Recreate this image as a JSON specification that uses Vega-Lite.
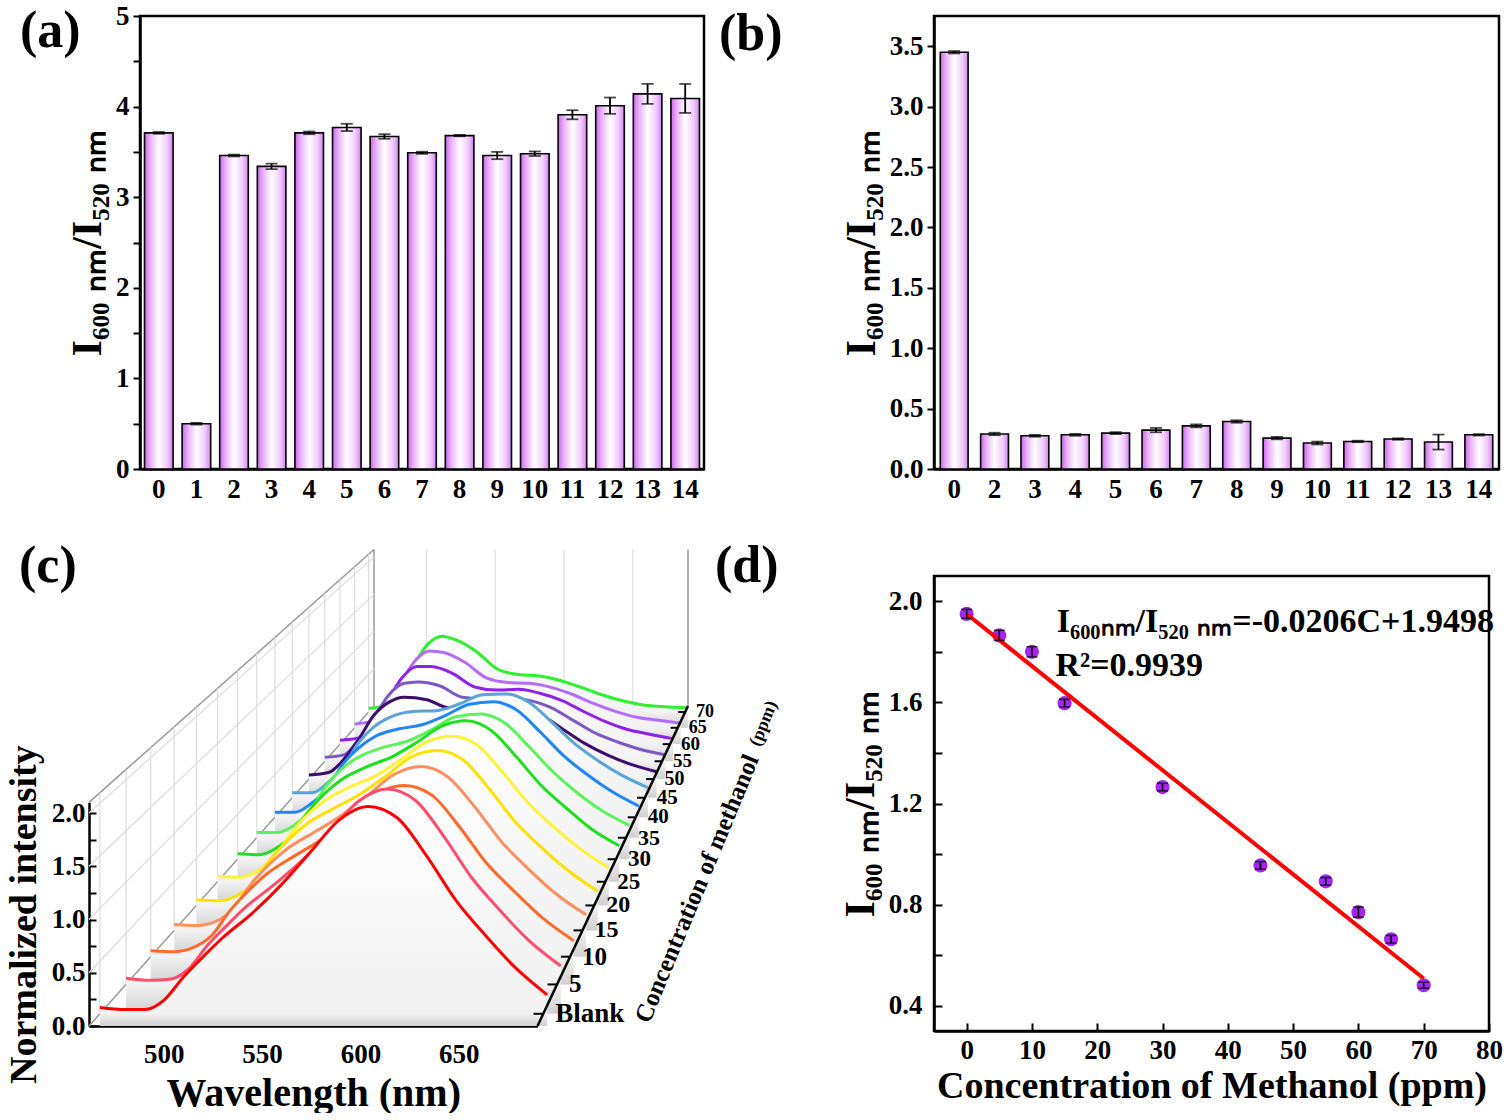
{
"$schema":"https://vega.github.io/schema/vega-lite/v6.json",
"background":"white",
"padding":{"left":5,"top":0,"right":0,"bottom":0},
"config":{
 "font":"Liberation Serif",
 "view":{"stroke":"#000","strokeWidth":2.5},
 "axis":{"labelFont":"Liberation Serif","titleFont":"Liberation Serif","labelFontWeight":"bold","titleFontWeight":"bold","labelFontSize":27,"titleFontSize":38,"labelColor":"#000","titleColor":"#000","domainColor":"#000","domainWidth":2.5,"tickColor":"#000","tickWidth":2,"grid":false,"labelOverlap":false,"labelFlush":false},
 "title":{"font":"Liberation Serif","fontSize":52,"fontWeight":"bold","color":"#000"},
 "text":{"font":"Liberation Serif","fontWeight":"bold","color":"#000"}
},
"datasets":{
 "a":[{"k":0,"v":3.71,"e":0.01},{"k":1,"v":0.50,"e":0.01},{"k":2,"v":3.46,"e":0.01},{"k":3,"v":3.34,"e":0.03},{"k":4,"v":3.71,"e":0.015},{"k":5,"v":3.77,"e":0.04},{"k":6,"v":3.67,"e":0.025},{"k":7,"v":3.49,"e":0.012},{"k":8,"v":3.68,"e":0.008},{"k":9,"v":3.46,"e":0.04},{"k":10,"v":3.48,"e":0.025},{"k":11,"v":3.91,"e":0.05},{"k":12,"v":4.01,"e":0.09},{"k":13,"v":4.14,"e":0.11},{"k":14,"v":4.09,"e":0.16}],
 "b":[{"k":0,"v":3.45,"e":0.01},{"k":2,"v":0.29,"e":0.01},{"k":3,"v":0.275,"e":0.008},{"k":4,"v":0.283,"e":0.008},{"k":5,"v":0.297,"e":0.008},{"k":6,"v":0.322,"e":0.018},{"k":7,"v":0.357,"e":0.012},{"k":8,"v":0.393,"e":0.01},{"k":9,"v":0.256,"e":0.01},{"k":10,"v":0.215,"e":0.012},{"k":11,"v":0.228,"e":0.006},{"k":12,"v":0.248,"e":0.006},{"k":13,"v":0.223,"e":0.062},{"k":14,"v":0.283,"e":0.006}],
 "d":[{"C":0,"r":1.95,"e":0.018},{"C":5,"r":1.865,"e":0.02},{"C":10,"r":1.80,"e":0.02},{"C":15,"r":1.597,"e":0.015},{"C":30,"r":1.265,"e":0.015},{"C":45,"r":0.955,"e":0.015},{"C":55,"r":0.892,"e":0.015},{"C":60,"r":0.77,"e":0.02},{"C":65,"r":0.663,"e":0.015},{"C":70,"r":0.481,"e":0.012}],
 "fit":[{"C":0,"r":1.9498},{"C":70,"r":0.5078}],
 "spec":[
{"c":0,"w":462,"v":0.06},{"c":0,"w":475,"v":0.04},{"c":0,"w":485,"v":0.04},{"c":0,"w":495,"v":0.13},{"c":0,"w":505,"v":0.35},{"c":0,"w":515,"v":0.54},{"c":0,"w":525,"v":0.72},{"c":0,"w":540,"v":0.95},{"c":0,"w":555,"v":1.22},{"c":0,"w":570,"v":1.53},{"c":0,"w":585,"v":1.84},{"c":0,"w":600,"v":1.97},{"c":0,"w":615,"v":1.86},{"c":0,"w":630,"v":1.50},{"c":0,"w":645,"v":1.08},{"c":0,"w":660,"v":0.75},{"c":0,"w":675,"v":0.45},{"c":0,"w":692,"v":0.18},
{"c":5,"w":462,"v":0.06},{"c":5,"w":475,"v":0.04},{"c":5,"w":485,"v":0.05},{"c":5,"w":495,"v":0.15},{"c":5,"w":505,"v":0.38},{"c":5,"w":515,"v":0.57},{"c":5,"w":525,"v":0.75},{"c":5,"w":540,"v":0.97},{"c":5,"w":555,"v":1.21},{"c":5,"w":570,"v":1.50},{"c":5,"w":585,"v":1.79},{"c":5,"w":600,"v":1.91},{"c":5,"w":615,"v":1.80},{"c":5,"w":630,"v":1.45},{"c":5,"w":645,"v":1.04},{"c":5,"w":660,"v":0.72},{"c":5,"w":675,"v":0.43},{"c":5,"w":692,"v":0.18},
{"c":10,"w":462,"v":0.06},{"c":10,"w":475,"v":0.05},{"c":10,"w":485,"v":0.09},{"c":10,"w":495,"v":0.21},{"c":10,"w":505,"v":0.46},{"c":10,"w":515,"v":0.66},{"c":10,"w":525,"v":0.83},{"c":10,"w":540,"v":1.01},{"c":10,"w":555,"v":1.18},{"c":10,"w":570,"v":1.41},{"c":10,"w":585,"v":1.64},{"c":10,"w":600,"v":1.72},{"c":10,"w":615,"v":1.62},{"c":10,"w":630,"v":1.30},{"c":10,"w":645,"v":0.93},{"c":10,"w":660,"v":0.65},{"c":10,"w":675,"v":0.39},{"c":10,"w":692,"v":0.16},
{"c":15,"w":462,"v":0.06},{"c":15,"w":475,"v":0.05},{"c":15,"w":485,"v":0.09},{"c":15,"w":495,"v":0.22},{"c":15,"w":505,"v":0.48},{"c":15,"w":515,"v":0.68},{"c":15,"w":525,"v":0.84},{"c":15,"w":540,"v":1.01},{"c":15,"w":555,"v":1.18},{"c":15,"w":570,"v":1.39},{"c":15,"w":585,"v":1.61},{"c":15,"w":600,"v":1.69},{"c":15,"w":615,"v":1.58},{"c":15,"w":630,"v":1.27},{"c":15,"w":645,"v":0.91},{"c":15,"w":660,"v":0.63},{"c":15,"w":675,"v":0.38},{"c":15,"w":692,"v":0.16},
{"c":20,"w":462,"v":0.06},{"c":20,"w":475,"v":0.05},{"c":20,"w":485,"v":0.10},{"c":20,"w":495,"v":0.24},{"c":20,"w":505,"v":0.50},{"c":20,"w":515,"v":0.70},{"c":20,"w":525,"v":0.86},{"c":20,"w":540,"v":1.02},{"c":20,"w":555,"v":1.17},{"c":20,"w":570,"v":1.36},{"c":20,"w":585,"v":1.57},{"c":20,"w":600,"v":1.64},{"c":20,"w":615,"v":1.54},{"c":20,"w":630,"v":1.23},{"c":20,"w":645,"v":0.88},{"c":20,"w":660,"v":0.61},{"c":20,"w":675,"v":0.37},{"c":20,"w":692,"v":0.15},
{"c":25,"w":462,"v":0.06},{"c":25,"w":475,"v":0.05},{"c":25,"w":485,"v":0.11},{"c":25,"w":495,"v":0.26},{"c":25,"w":505,"v":0.52},{"c":25,"w":515,"v":0.73},{"c":25,"w":525,"v":0.88},{"c":25,"w":540,"v":1.03},{"c":25,"w":555,"v":1.15},{"c":25,"w":570,"v":1.33},{"c":25,"w":585,"v":1.52},{"c":25,"w":600,"v":1.58},{"c":25,"w":615,"v":1.48},{"c":25,"w":630,"v":1.18},{"c":25,"w":645,"v":0.85},{"c":25,"w":660,"v":0.59},{"c":25,"w":675,"v":0.36},{"c":25,"w":692,"v":0.15},
{"c":30,"w":462,"v":0.06},{"c":30,"w":475,"v":0.05},{"c":30,"w":485,"v":0.12},{"c":30,"w":495,"v":0.27},{"c":30,"w":505,"v":0.54},{"c":30,"w":515,"v":0.74},{"c":30,"w":525,"v":0.89},{"c":30,"w":540,"v":1.03},{"c":30,"w":555,"v":1.14},{"c":30,"w":570,"v":1.30},{"c":30,"w":585,"v":1.48},{"c":30,"w":600,"v":1.54},{"c":30,"w":615,"v":1.43},{"c":30,"w":630,"v":1.14},{"c":30,"w":645,"v":0.82},{"c":30,"w":660,"v":0.57},{"c":30,"w":675,"v":0.34},{"c":30,"w":692,"v":0.15},
{"c":35,"w":462,"v":0.06},{"c":35,"w":475,"v":0.06},{"c":35,"w":485,"v":0.14},{"c":35,"w":495,"v":0.31},{"c":35,"w":505,"v":0.59},{"c":35,"w":515,"v":0.79},{"c":35,"w":525,"v":0.92},{"c":35,"w":540,"v":1.03},{"c":35,"w":555,"v":1.10},{"c":35,"w":570,"v":1.23},{"c":35,"w":585,"v":1.38},{"c":35,"w":600,"v":1.41},{"c":35,"w":615,"v":1.31},{"c":35,"w":630,"v":1.04},{"c":35,"w":645,"v":0.75},{"c":35,"w":660,"v":0.51},{"c":35,"w":675,"v":0.31},{"c":35,"w":692,"v":0.14},
{"c":40,"w":462,"v":0.06},{"c":40,"w":475,"v":0.06},{"c":40,"w":485,"v":0.16},{"c":40,"w":495,"v":0.33},{"c":40,"w":505,"v":0.62},{"c":40,"w":515,"v":0.81},{"c":40,"w":525,"v":0.94},{"c":40,"w":540,"v":1.03},{"c":40,"w":555,"v":1.08},{"c":40,"w":570,"v":1.19},{"c":40,"w":585,"v":1.32},{"c":40,"w":600,"v":1.35},{"c":40,"w":615,"v":1.25},{"c":40,"w":630,"v":0.99},{"c":40,"w":645,"v":0.71},{"c":40,"w":660,"v":0.49},{"c":40,"w":675,"v":0.30},{"c":40,"w":692,"v":0.13},
{"c":45,"w":462,"v":0.06},{"c":45,"w":475,"v":0.06},{"c":45,"w":485,"v":0.18},{"c":45,"w":495,"v":0.37},{"c":45,"w":505,"v":0.66},{"c":45,"w":515,"v":0.85},{"c":45,"w":525,"v":0.96},{"c":45,"w":540,"v":1.03},{"c":45,"w":555,"v":1.04},{"c":45,"w":570,"v":1.12},{"c":45,"w":585,"v":1.23},{"c":45,"w":600,"v":1.24},{"c":45,"w":615,"v":1.14},{"c":45,"w":630,"v":0.90},{"c":45,"w":645,"v":0.64},{"c":45,"w":660,"v":0.44},{"c":45,"w":675,"v":0.27},{"c":45,"w":692,"v":0.12},
{"c":50,"w":462,"v":0.05},{"c":50,"w":475,"v":0.08},{"c":50,"w":485,"v":0.24},{"c":50,"w":495,"v":0.49},{"c":50,"w":505,"v":0.78},{"c":50,"w":515,"v":0.94},{"c":50,"w":525,"v":1.00},{"c":50,"w":540,"v":0.97},{"c":50,"w":555,"v":0.87},{"c":50,"w":570,"v":0.87},{"c":50,"w":585,"v":0.91},{"c":50,"w":600,"v":0.89},{"c":50,"w":615,"v":0.79},{"c":50,"w":630,"v":0.61},{"c":50,"w":645,"v":0.43},{"c":50,"w":660,"v":0.29},{"c":50,"w":675,"v":0.18},{"c":50,"w":692,"v":0.09},
{"c":55,"w":462,"v":0.05},{"c":55,"w":475,"v":0.08},{"c":55,"w":485,"v":0.27},{"c":55,"w":495,"v":0.53},{"c":55,"w":505,"v":0.82},{"c":55,"w":515,"v":0.97},{"c":55,"w":525,"v":0.99},{"c":55,"w":540,"v":0.94},{"c":55,"w":555,"v":0.80},{"c":55,"w":570,"v":0.78},{"c":55,"w":585,"v":0.80},{"c":55,"w":600,"v":0.76},{"c":55,"w":615,"v":0.67},{"c":55,"w":630,"v":0.51},{"c":55,"w":645,"v":0.35},{"c":55,"w":660,"v":0.24},{"c":55,"w":675,"v":0.15},{"c":55,"w":692,"v":0.08},
{"c":60,"w":462,"v":0.05},{"c":60,"w":475,"v":0.08},{"c":60,"w":485,"v":0.29},{"c":60,"w":495,"v":0.56},{"c":60,"w":505,"v":0.85},{"c":60,"w":515,"v":0.99},{"c":60,"w":525,"v":0.99},{"c":60,"w":540,"v":0.90},{"c":60,"w":555,"v":0.73},{"c":60,"w":570,"v":0.69},{"c":60,"w":585,"v":0.70},{"c":60,"w":600,"v":0.65},{"c":60,"w":615,"v":0.56},{"c":60,"w":630,"v":0.42},{"c":60,"w":645,"v":0.29},{"c":60,"w":660,"v":0.19},{"c":60,"w":675,"v":0.13},{"c":60,"w":692,"v":0.07},
{"c":65,"w":462,"v":0.05},{"c":65,"w":475,"v":0.09},{"c":65,"w":485,"v":0.31},{"c":65,"w":495,"v":0.60},{"c":65,"w":505,"v":0.88},{"c":65,"w":515,"v":1.00},{"c":65,"w":525,"v":0.98},{"c":65,"w":540,"v":0.85},{"c":65,"w":555,"v":0.65},{"c":65,"w":570,"v":0.59},{"c":65,"w":585,"v":0.58},{"c":65,"w":600,"v":0.53},{"c":65,"w":615,"v":0.44},{"c":65,"w":630,"v":0.32},{"c":65,"w":645,"v":0.22},{"c":65,"w":660,"v":0.14},{"c":65,"w":675,"v":0.10},{"c":65,"w":692,"v":0.06},
{"c":70,"w":462,"v":0.05},{"c":70,"w":475,"v":0.09},{"c":70,"w":485,"v":0.33},{"c":70,"w":495,"v":0.64},{"c":70,"w":505,"v":0.91},{"c":70,"w":515,"v":1.01},{"c":70,"w":525,"v":0.96},{"c":70,"w":540,"v":0.80},{"c":70,"w":555,"v":0.57},{"c":70,"w":570,"v":0.50},{"c":70,"w":585,"v":0.48},{"c":70,"w":600,"v":0.42},{"c":70,"w":615,"v":0.33},{"c":70,"w":630,"v":0.23},{"c":70,"w":645,"v":0.15},{"c":70,"w":660,"v":0.095},{"c":70,"w":675,"v":0.07},{"c":70,"w":692,"v":0.055}
 ]
},
"columns":2,
"align":"none",
"bounds":"flush",
"spacing":{"row":107,"column":220},
"concat":[
  {"width":564,"height":453,
   "title":{"text":"(a)","anchor":"start","frame":"group","orient":"top","offset":0,"dx":-120,"dy":97,"baseline":"alphabetic"},
   "data":{"name":"a"},
   "encoding":{
    "x":{"field":"k","type":"ordinal","scale":{"paddingInner":0.24,"paddingOuter":0.12},"axis":{"title":null,"labelAngle":0,"ticks":false,"labelPadding":7}},
    "y":{"field":"v","type":"quantitative","scale":{"domain":[0,5],"nice":false},"axis":{"title":"I₆₀₀ ₙₘ/I₅₂₀ ₙₘ","titleFontSize":42,"titlePadding":6,"values":[0,0.5,1,1.5,2,2.5,3,3.5,4,4.5,5],"labelExpr":"datum.value % 1 === 0 ? format(datum.value, 'd') : ''","tickSize":7,"labelPadding":4}}
   },
   "layer":[
    {"mark":{"type":"bar","fill":{"gradient":"linear","x1":0,"y1":0,"x2":1,"y2":0,"stops":[{"offset":0,"color":"#cc66f0"},{"offset":0.2,"color":"#e9b0f8"},{"offset":0.5,"color":"#ffffff"},{"offset":0.8,"color":"#f0cbfa"},{"offset":1,"color":"#d484f2"}]},"stroke":"#000","strokeWidth":1.6}},
    {"mark":{"type":"errorbar","color":"#000","ticks":{"size":12,"thickness":1.8},"rule":{"strokeWidth":1.8}},"encoding":{"yError":{"field":"e"}}}
   ]
  },
  {"width":565,"height":453,
   "title":{"text":"(b)","anchor":"start","frame":"group","orient":"top","offset":0,"dx":-215,"dy":86,"baseline":"alphabetic"},
   "data":{"name":"b"},
   "encoding":{
    "x":{"field":"k","type":"ordinal","scale":{"paddingInner":0.31,"paddingOuter":0.155},"axis":{"title":null,"labelAngle":0,"ticks":false,"labelPadding":7}},
    "y":{"field":"v","type":"quantitative","scale":{"domain":[0,3.75],"nice":false},"axis":{"title":"I₆₀₀ ₙₘ/I₅₂₀ ₙₘ","titleFontSize":42,"titlePadding":6,"values":[0,0.5,1,1.5,2,2.5,3,3.5],"format":".1f","tickSize":7,"labelPadding":4}}
   },
   "layer":[
    {"mark":{"type":"bar","fill":{"gradient":"linear","x1":0,"y1":0,"x2":1,"y2":0,"stops":[{"offset":0,"color":"#cc66f0"},{"offset":0.2,"color":"#e9b0f8"},{"offset":0.5,"color":"#ffffff"},{"offset":0.8,"color":"#f0cbfa"},{"offset":1,"color":"#d484f2"}]},"stroke":"#000","strokeWidth":1.6}},
    {"mark":{"type":"errorbar","color":"#000","ticks":{"size":12,"thickness":1.8},"rule":{"strokeWidth":1.8}},"encoding":{"yError":{"field":"e"}}}
   ]
  },
  {"width":574,"height":450,
   "view":{"stroke":null},
   "title":{"text":"(c)","anchor":"start","frame":"group","orient":"top","offset":0,"dx":-121,"dy":85,"baseline":"alphabetic"},
   "resolve":{"scale":{"x":"independent","y":"independent"},"axis":{"x":"independent","y":"independent"}},
   "layer":[
    {"data":{"values":[{"w":500},{"w":550},{"w":600},{"w":650}]},
     "encoding":{"x":{"field":"w","type":"quantitative","scale":{"domain":[462,690],"range":[234,548],"nice":false,"zero":false},"axis":null}},
     "layer":[
      {"mark":{"type":"rule","color":"#dddddd","strokeWidth":1.2},"encoding":{"y":{"datum":0,"type":"quantitative","scale":{"domain":[0,2.1],"range":[130,-26.56],"nice":false,"zero":false},"axis":null},"y2":{"datum":2.1}}},
      {"data":{"values":[{"v":0.5},{"v":1.0},{"v":1.5},{"v":2.0}]},"mark":{"type":"rule","color":"#dddddd","strokeWidth":1.2},"encoding":{"y":{"field":"v","type":"quantitative","axis":null},"x":{"datum":462,"type":"quantitative","axis":null},"x2":{"datum":690}}},
      {"data":{"values":[{"w":462},{"w":690}]},"mark":{"type":"rule","color":"#9a9a9a","strokeWidth":1.5},"encoding":{"y":{"datum":0,"type":"quantitative","axis":null},"y2":{"datum":2.1}}},
      {"data":{"values":[{"v":2.1}]},"mark":{"type":"rule","color":"#9a9a9a","strokeWidth":1.5},"encoding":{"y":{"field":"v","type":"quantitative","axis":null},"x":{"datum":462,"type":"quantitative","axis":null},"x2":{"datum":690}}}
     ]},
    {"data":{"values":[{}]},"mark":{"type":"rule","color":"#9a9a9a","strokeWidth":1.5},"encoding":{"x":{"datum":-2,"type":"quantitative","scale":{"domain":[-2,72],"range":[-51,234],"nice":false,"zero":false},"axis":null},"x2":{"datum":72},"y":{"datum":-2,"type":"quantitative","scale":{"domain":[-2,72],"range":[450,130],"nice":false,"zero":false},"axis":null},"y2":{"datum":72}}},
    {"data":{"values":[{}]},"mark":{"type":"rule","color":"#dddddd","strokeWidth":1.2},"encoding":{"x":{"datum":-2,"type":"quantitative","scale":{"domain":[-2,72],"range":[-51,234],"nice":false,"zero":false},"axis":null},"x2":{"datum":72},"y":{"datum":-2,"type":"quantitative","scale":{"domain":[-2,72],"range":[396.75,92.72],"nice":false,"zero":false},"axis":null},"y2":{"datum":72}}},
    {"data":{"values":[{}]},"mark":{"type":"rule","color":"#dddddd","strokeWidth":1.2},"encoding":{"x":{"datum":-2,"type":"quantitative","scale":{"domain":[-2,72],"range":[-51,234],"nice":false,"zero":false},"axis":null},"x2":{"datum":72},"y":{"datum":-2,"type":"quantitative","scale":{"domain":[-2,72],"range":[343.5,55.45],"nice":false,"zero":false},"axis":null},"y2":{"datum":72}}},
    {"data":{"values":[{}]},"mark":{"type":"rule","color":"#dddddd","strokeWidth":1.2},"encoding":{"x":{"datum":-2,"type":"quantitative","scale":{"domain":[-2,72],"range":[-51,234],"nice":false,"zero":false},"axis":null},"x2":{"datum":72},"y":{"datum":-2,"type":"quantitative","scale":{"domain":[-2,72],"range":[290.25,18.18],"nice":false,"zero":false},"axis":null},"y2":{"datum":72}}},
    {"data":{"values":[{}]},"mark":{"type":"rule","color":"#dddddd","strokeWidth":1.2},"encoding":{"x":{"datum":-2,"type":"quantitative","scale":{"domain":[-2,72],"range":[-51,234],"nice":false,"zero":false},"axis":null},"x2":{"datum":72},"y":{"datum":-2,"type":"quantitative","scale":{"domain":[-2,72],"range":[237,-19.1],"nice":false,"zero":false},"axis":null},"y2":{"datum":72}}},
    {"data":{"values":[{}]},"mark":{"type":"rule","color":"#9a9a9a","strokeWidth":1.5},"encoding":{"x":{"datum":-2,"type":"quantitative","scale":{"domain":[-2,72],"range":[-51,234],"nice":false,"zero":false},"axis":null},"x2":{"datum":72},"y":{"datum":-2,"type":"quantitative","scale":{"domain":[-2,72],"range":[226.35,-26.56],"nice":false,"zero":false},"axis":null},"y2":{"datum":72}}},

    {"data":{"name":"spec"},"transform":[{"filter":"datum.c == 70"}],
     "encoding":{"x":{"field":"w","type":"quantitative","scale":{"domain":[462,690],"range":[228.58,545.09],"nice":false,"zero":false},"axis":null},"y":{"field":"v","type":"quantitative","scale":{"domain":[0,2.1],"range":[136.07,-21.75],"nice":false,"zero":false},"axis":null}},
     "layer":[
      {"transform":[{"filter":"datum.w == 462"}],"mark":{"type":"rule","color":"#dcdcdc","strokeWidth":1.2},"encoding":{"y":{"datum":0,"type":"quantitative","axis":null},"y2":{"datum":2.1}}},
      {"mark":{"type":"area","interpolate":"monotone","opacity":1,"fill":{"gradient":"linear","x1":0,"y1":0,"x2":0,"y2":1,"stops":[{"offset":0,"color":"#ffffff"},{"offset":0.829,"color":"#f2f2f2"},{"offset":1,"color":"#d0d0d0"}]}},"encoding":{"y2":{"datum":-0.209}}},
      {"mark":{"type":"line","interpolate":"monotone","color":"#2ef02e","strokeWidth":3}},
      {"transform":[{"filter":"datum.w == 692"}],"mark":{"type":"rule","color":"#000","strokeWidth":2},"encoding":{"x":{"datum":690,"type":"quantitative","axis":null},"x2":{"datum":685},"y":{"datum":0,"type":"quantitative","axis":null}}},
      {"transform":[{"filter":"datum.w == 692"}],"mark":{"type":"text","text":"70","align":"left","baseline":"middle","dx":11,"fontSize":18},"encoding":{"x":{"datum":690,"type":"quantitative","axis":null},"y":{"datum":0,"type":"quantitative","axis":null}}}
     ]},
    {"data":{"name":"spec"},"transform":[{"filter":"datum.c == 65"}],
     "encoding":{"x":{"field":"w","type":"quantitative","scale":{"domain":[462,690],"range":[214.59,537.71],"nice":false,"zero":false},"axis":null},"y":{"field":"v","type":"quantitative","scale":{"domain":[0,2.1],"range":[151.78,-9.34],"nice":false,"zero":false},"axis":null}},
     "layer":[
      {"transform":[{"filter":"datum.w == 462"}],"mark":{"type":"rule","color":"#dcdcdc","strokeWidth":1.2},"encoding":{"y":{"datum":0,"type":"quantitative","axis":null},"y2":{"datum":2.1}}},
      {"mark":{"type":"area","interpolate":"monotone","opacity":1,"fill":{"gradient":"linear","x1":0,"y1":0,"x2":0,"y2":1,"stops":[{"offset":0,"color":"#ffffff"},{"offset":0.824,"color":"#f2f2f2"},{"offset":1,"color":"#d0d0d0"}]}},"encoding":{"y2":{"datum":-0.213}}},
      {"mark":{"type":"line","interpolate":"monotone","color":"#b56cfa","strokeWidth":3}},
      {"transform":[{"filter":"datum.w == 692"}],"mark":{"type":"rule","color":"#000","strokeWidth":2},"encoding":{"x":{"datum":690,"type":"quantitative","axis":null},"x2":{"datum":685},"y":{"datum":0,"type":"quantitative","axis":null}}},
      {"transform":[{"filter":"datum.w == 692"}],"mark":{"type":"text","text":"65","align":"left","baseline":"middle","dx":11,"fontSize":18},"encoding":{"x":{"datum":690,"type":"quantitative","axis":null},"y":{"datum":0,"type":"quantitative","axis":null}}}
     ]},
    {"data":{"name":"spec"},"transform":[{"filter":"datum.c == 60"}],
     "encoding":{"x":{"field":"w","type":"quantitative","scale":{"domain":[462,690],"range":[200.01,530.01],"nice":false,"zero":false},"axis":null},"y":{"field":"v","type":"quantitative","scale":{"domain":[0,2.1],"range":[168.15,3.6],"nice":false,"zero":false},"axis":null}},
     "layer":[
      {"transform":[{"filter":"datum.w == 462"}],"mark":{"type":"rule","color":"#dcdcdc","strokeWidth":1.2},"encoding":{"y":{"datum":0,"type":"quantitative","axis":null},"y2":{"datum":2.1}}},
      {"mark":{"type":"area","interpolate":"monotone","opacity":1,"fill":{"gradient":"linear","x1":0,"y1":0,"x2":0,"y2":1,"stops":[{"offset":0,"color":"#ffffff"},{"offset":0.82,"color":"#f2f2f2"},{"offset":1,"color":"#d0d0d0"}]}},"encoding":{"y2":{"datum":-0.218}}},
      {"mark":{"type":"line","interpolate":"monotone","color":"#8f22e6","strokeWidth":3}},
      {"transform":[{"filter":"datum.w == 692"}],"mark":{"type":"rule","color":"#000","strokeWidth":2},"encoding":{"x":{"datum":690,"type":"quantitative","axis":null},"x2":{"datum":685},"y":{"datum":0,"type":"quantitative","axis":null}}},
      {"transform":[{"filter":"datum.w == 692"}],"mark":{"type":"text","text":"60","align":"left","baseline":"middle","dx":11,"fontSize":19},"encoding":{"x":{"datum":690,"type":"quantitative","axis":null},"y":{"datum":0,"type":"quantitative","axis":null}}}
     ]},
    {"data":{"name":"spec"},"transform":[{"filter":"datum.c == 55"}],
     "encoding":{"x":{"field":"w","type":"quantitative","scale":{"domain":[462,690],"range":[184.79,521.97],"nice":false,"zero":false},"axis":null},"y":{"field":"v","type":"quantitative","scale":{"domain":[0,2.1],"range":[185.24,17.1],"nice":false,"zero":false},"axis":null}},
     "layer":[
      {"transform":[{"filter":"datum.w == 462"}],"mark":{"type":"rule","color":"#dcdcdc","strokeWidth":1.2},"encoding":{"y":{"datum":0,"type":"quantitative","axis":null},"y2":{"datum":2.1}}},
      {"mark":{"type":"area","interpolate":"monotone","opacity":1,"fill":{"gradient":"linear","x1":0,"y1":0,"x2":0,"y2":1,"stops":[{"offset":0,"color":"#ffffff"},{"offset":0.816,"color":"#f2f2f2"},{"offset":1,"color":"#d0d0d0"}]}},"encoding":{"y2":{"datum":-0.223}}},
      {"mark":{"type":"line","interpolate":"monotone","color":"#7a58c6","strokeWidth":3}},
      {"transform":[{"filter":"datum.w == 692"}],"mark":{"type":"rule","color":"#000","strokeWidth":2},"encoding":{"x":{"datum":690,"type":"quantitative","axis":null},"x2":{"datum":685},"y":{"datum":0,"type":"quantitative","axis":null}}},
      {"transform":[{"filter":"datum.w == 692"}],"mark":{"type":"text","text":"55","align":"left","baseline":"middle","dx":11,"fontSize":19},"encoding":{"x":{"datum":690,"type":"quantitative","axis":null},"y":{"datum":0,"type":"quantitative","axis":null}}}
     ]},
    {"data":{"name":"spec"},"transform":[{"filter":"datum.c == 50"}],
     "encoding":{"x":{"field":"w","type":"quantitative","scale":{"domain":[462,690],"range":[168.9,513.58],"nice":false,"zero":false},"axis":null},"y":{"field":"v","type":"quantitative","scale":{"domain":[0,2.1],"range":[203.09,31.22],"nice":false,"zero":false},"axis":null}},
     "layer":[
      {"transform":[{"filter":"datum.w == 462"}],"mark":{"type":"rule","color":"#dcdcdc","strokeWidth":1.2},"encoding":{"y":{"datum":0,"type":"quantitative","axis":null},"y2":{"datum":2.1}}},
      {"mark":{"type":"area","interpolate":"monotone","opacity":1,"fill":{"gradient":"linear","x1":0,"y1":0,"x2":0,"y2":1,"stops":[{"offset":0,"color":"#ffffff"},{"offset":0.814,"color":"#f2f2f2"},{"offset":1,"color":"#d0d0d0"}]}},"encoding":{"y2":{"datum":-0.228}}},
      {"mark":{"type":"line","interpolate":"monotone","color":"#3c0d6e","strokeWidth":3}},
      {"transform":[{"filter":"datum.w == 692"}],"mark":{"type":"rule","color":"#000","strokeWidth":2},"encoding":{"x":{"datum":690,"type":"quantitative","axis":null},"x2":{"datum":685},"y":{"datum":0,"type":"quantitative","axis":null}}},
      {"transform":[{"filter":"datum.w == 692"}],"mark":{"type":"text","text":"50","align":"left","baseline":"middle","dx":11,"fontSize":20},"encoding":{"x":{"datum":690,"type":"quantitative","axis":null},"y":{"datum":0,"type":"quantitative","axis":null}}}
     ]},
    {"data":{"name":"spec"},"transform":[{"filter":"datum.c == 45"}],
     "encoding":{"x":{"field":"w","type":"quantitative","scale":{"domain":[462,690],"range":[152.28,504.81],"nice":false,"zero":false},"axis":null},"y":{"field":"v","type":"quantitative","scale":{"domain":[0,2.1],"range":[221.75,45.97],"nice":false,"zero":false},"axis":null}},
     "layer":[
      {"transform":[{"filter":"datum.w == 462"}],"mark":{"type":"rule","color":"#dcdcdc","strokeWidth":1.2},"encoding":{"y":{"datum":0,"type":"quantitative","axis":null},"y2":{"datum":2.1}}},
      {"mark":{"type":"area","interpolate":"monotone","opacity":1,"fill":{"gradient":"linear","x1":0,"y1":0,"x2":0,"y2":1,"stops":[{"offset":0,"color":"#ffffff"},{"offset":0.842,"color":"#f2f2f2"},{"offset":1,"color":"#d0d0d0"}]}},"encoding":{"y2":{"datum":-0.233}}},
      {"mark":{"type":"line","interpolate":"monotone","color":"#5aa5d6","strokeWidth":3}},
      {"transform":[{"filter":"datum.w == 692"}],"mark":{"type":"rule","color":"#000","strokeWidth":2},"encoding":{"x":{"datum":690,"type":"quantitative","axis":null},"x2":{"datum":685},"y":{"datum":0,"type":"quantitative","axis":null}}},
      {"transform":[{"filter":"datum.w == 692"}],"mark":{"type":"text","text":"45","align":"left","baseline":"middle","dx":12,"fontSize":21},"encoding":{"x":{"datum":690,"type":"quantitative","axis":null},"y":{"datum":0,"type":"quantitative","axis":null}}}
     ]},
    {"data":{"name":"spec"},"transform":[{"filter":"datum.c == 40"}],
     "encoding":{"x":{"field":"w","type":"quantitative","scale":{"domain":[462,690],"range":[134.88,495.63],"nice":false,"zero":false},"axis":null},"y":{"field":"v","type":"quantitative","scale":{"domain":[0,2.1],"range":[241.28,61.4],"nice":false,"zero":false},"axis":null}},
     "layer":[
      {"transform":[{"filter":"datum.w == 462"}],"mark":{"type":"rule","color":"#dcdcdc","strokeWidth":1.2},"encoding":{"y":{"datum":0,"type":"quantitative","axis":null},"y2":{"datum":2.1}}},
      {"mark":{"type":"area","interpolate":"monotone","opacity":1,"fill":{"gradient":"linear","x1":0,"y1":0,"x2":0,"y2":1,"stops":[{"offset":0,"color":"#ffffff"},{"offset":0.85,"color":"#f2f2f2"},{"offset":1,"color":"#d0d0d0"}]}},"encoding":{"y2":{"datum":-0.239}}},
      {"mark":{"type":"line","interpolate":"monotone","color":"#1f86f5","strokeWidth":3}},
      {"transform":[{"filter":"datum.w == 692"}],"mark":{"type":"rule","color":"#000","strokeWidth":2},"encoding":{"x":{"datum":690,"type":"quantitative","axis":null},"x2":{"datum":685},"y":{"datum":0,"type":"quantitative","axis":null}}},
      {"transform":[{"filter":"datum.w == 692"}],"mark":{"type":"text","text":"40","align":"left","baseline":"middle","dx":12,"fontSize":21},"encoding":{"x":{"datum":690,"type":"quantitative","axis":null},"y":{"datum":0,"type":"quantitative","axis":null}}}
     ]},
    {"data":{"name":"spec"},"transform":[{"filter":"datum.c == 35"}],
     "encoding":{"x":{"field":"w","type":"quantitative","scale":{"domain":[462,690],"range":[116.66,486.01],"nice":false,"zero":false},"axis":null},"y":{"field":"v","type":"quantitative","scale":{"domain":[0,2.1],"range":[261.74,77.57],"nice":false,"zero":false},"axis":null}},
     "layer":[
      {"transform":[{"filter":"datum.w == 462"}],"mark":{"type":"rule","color":"#dcdcdc","strokeWidth":1.2},"encoding":{"y":{"datum":0,"type":"quantitative","axis":null},"y2":{"datum":2.1}}},
      {"mark":{"type":"area","interpolate":"monotone","opacity":1,"fill":{"gradient":"linear","x1":0,"y1":0,"x2":0,"y2":1,"stops":[{"offset":0,"color":"#ffffff"},{"offset":0.852,"color":"#f2f2f2"},{"offset":1,"color":"#d0d0d0"}]}},"encoding":{"y2":{"datum":-0.245}}},
      {"mark":{"type":"line","interpolate":"monotone","color":"#5cf25c","strokeWidth":3}},
      {"transform":[{"filter":"datum.w == 692"}],"mark":{"type":"rule","color":"#000","strokeWidth":2},"encoding":{"x":{"datum":690,"type":"quantitative","axis":null},"x2":{"datum":685},"y":{"datum":0,"type":"quantitative","axis":null}}},
      {"transform":[{"filter":"datum.w == 692"}],"mark":{"type":"text","text":"35","align":"left","baseline":"middle","dx":12,"fontSize":22},"encoding":{"x":{"datum":690,"type":"quantitative","axis":null},"y":{"datum":0,"type":"quantitative","axis":null}}}
     ]},
    {"data":{"name":"spec"},"transform":[{"filter":"datum.c == 30"}],
     "encoding":{"x":{"field":"w","type":"quantitative","scale":{"domain":[462,690],"range":[97.55,475.92],"nice":false,"zero":false},"axis":null},"y":{"field":"v","type":"quantitative","scale":{"domain":[0,2.1],"range":[283.21,94.54],"nice":false,"zero":false},"axis":null}},
     "layer":[
      {"transform":[{"filter":"datum.w == 462"}],"mark":{"type":"rule","color":"#dcdcdc","strokeWidth":1.2},"encoding":{"y":{"datum":0,"type":"quantitative","axis":null},"y2":{"datum":2.1}}},
      {"mark":{"type":"area","interpolate":"monotone","opacity":1,"fill":{"gradient":"linear","x1":0,"y1":0,"x2":0,"y2":1,"stops":[{"offset":0,"color":"#ffffff"},{"offset":0.86,"color":"#f2f2f2"},{"offset":1,"color":"#d0d0d0"}]}},"encoding":{"y2":{"datum":-0.251}}},
      {"mark":{"type":"line","interpolate":"monotone","color":"#1ee01e","strokeWidth":3}},
      {"transform":[{"filter":"datum.w == 692"}],"mark":{"type":"rule","color":"#000","strokeWidth":2},"encoding":{"x":{"datum":690,"type":"quantitative","axis":null},"x2":{"datum":685},"y":{"datum":0,"type":"quantitative","axis":null}}},
      {"transform":[{"filter":"datum.w == 692"}],"mark":{"type":"text","text":"30","align":"left","baseline":"middle","dx":12,"fontSize":23},"encoding":{"x":{"datum":690,"type":"quantitative","axis":null},"y":{"datum":0,"type":"quantitative","axis":null}}}
     ]},
    {"data":{"name":"spec"},"transform":[{"filter":"datum.c == 25"}],
     "encoding":{"x":{"field":"w","type":"quantitative","scale":{"domain":[462,690],"range":[77.47,465.32],"nice":false,"zero":false},"axis":null},"y":{"field":"v","type":"quantitative","scale":{"domain":[0,2.1],"range":[305.75,112.34],"nice":false,"zero":false},"axis":null}},
     "layer":[
      {"transform":[{"filter":"datum.w == 462"}],"mark":{"type":"rule","color":"#dcdcdc","strokeWidth":1.2},"encoding":{"y":{"datum":0,"type":"quantitative","axis":null},"y2":{"datum":2.1}}},
      {"mark":{"type":"area","interpolate":"monotone","opacity":1,"fill":{"gradient":"linear","x1":0,"y1":0,"x2":0,"y2":1,"stops":[{"offset":0,"color":"#ffffff"},{"offset":0.86,"color":"#f2f2f2"},{"offset":1,"color":"#d0d0d0"}]}},"encoding":{"y2":{"datum":-0.257}}},
      {"mark":{"type":"line","interpolate":"monotone","color":"#fff23a","strokeWidth":3}},
      {"transform":[{"filter":"datum.w == 692"}],"mark":{"type":"rule","color":"#000","strokeWidth":2},"encoding":{"x":{"datum":690,"type":"quantitative","axis":null},"x2":{"datum":685},"y":{"datum":0,"type":"quantitative","axis":null}}},
      {"transform":[{"filter":"datum.w == 692"}],"mark":{"type":"text","text":"25","align":"left","baseline":"middle","dx":12,"fontSize":23},"encoding":{"x":{"datum":690,"type":"quantitative","axis":null},"y":{"datum":0,"type":"quantitative","axis":null}}}
     ]},
    {"data":{"name":"spec"},"transform":[{"filter":"datum.c == 20"}],
     "encoding":{"x":{"field":"w","type":"quantitative","scale":{"domain":[462,690],"range":[56.37,454.18],"nice":false,"zero":false},"axis":null},"y":{"field":"v","type":"quantitative","scale":{"domain":[0,2.1],"range":[329.44,131.07],"nice":false,"zero":false},"axis":null}},
     "layer":[
      {"transform":[{"filter":"datum.w == 462"}],"mark":{"type":"rule","color":"#dcdcdc","strokeWidth":1.2},"encoding":{"y":{"datum":0,"type":"quantitative","axis":null},"y2":{"datum":2.1}}},
      {"mark":{"type":"area","interpolate":"monotone","opacity":1,"fill":{"gradient":"linear","x1":0,"y1":0,"x2":0,"y2":1,"stops":[{"offset":0,"color":"#ffffff"},{"offset":0.861,"color":"#f2f2f2"},{"offset":1,"color":"#d0d0d0"}]}},"encoding":{"y2":{"datum":-0.264}}},
      {"mark":{"type":"line","interpolate":"monotone","color":"#ffe100","strokeWidth":3}},
      {"transform":[{"filter":"datum.w == 692"}],"mark":{"type":"rule","color":"#000","strokeWidth":2},"encoding":{"x":{"datum":690,"type":"quantitative","axis":null},"x2":{"datum":685},"y":{"datum":0,"type":"quantitative","axis":null}}},
      {"transform":[{"filter":"datum.w == 692"}],"mark":{"type":"text","text":"20","align":"left","baseline":"middle","dx":12,"fontSize":24},"encoding":{"x":{"datum":690,"type":"quantitative","axis":null},"y":{"datum":0,"type":"quantitative","axis":null}}}
     ]},
    {"data":{"name":"spec"},"transform":[{"filter":"datum.c == 15"}],
     "encoding":{"x":{"field":"w","type":"quantitative","scale":{"domain":[462,690],"range":[34.16,442.45],"nice":false,"zero":false},"axis":null},"y":{"field":"v","type":"quantitative","scale":{"domain":[0,2.1],"range":[354.38,150.78],"nice":false,"zero":false},"axis":null}},
     "layer":[
      {"transform":[{"filter":"datum.w == 462"}],"mark":{"type":"rule","color":"#dcdcdc","strokeWidth":1.2},"encoding":{"y":{"datum":0,"type":"quantitative","axis":null},"y2":{"datum":2.1}}},
      {"mark":{"type":"area","interpolate":"monotone","opacity":1,"fill":{"gradient":"linear","x1":0,"y1":0,"x2":0,"y2":1,"stops":[{"offset":0,"color":"#ffffff"},{"offset":0.862,"color":"#f2f2f2"},{"offset":1,"color":"#d0d0d0"}]}},"encoding":{"y2":{"datum":-0.271}}},
      {"mark":{"type":"line","interpolate":"monotone","color":"#ff8f5e","strokeWidth":3}},
      {"transform":[{"filter":"datum.w == 692"}],"mark":{"type":"rule","color":"#000","strokeWidth":2},"encoding":{"x":{"datum":690,"type":"quantitative","axis":null},"x2":{"datum":685},"y":{"datum":0,"type":"quantitative","axis":null}}},
      {"transform":[{"filter":"datum.w == 692"}],"mark":{"type":"text","text":"15","align":"left","baseline":"middle","dx":12,"fontSize":24},"encoding":{"x":{"datum":690,"type":"quantitative","axis":null},"y":{"datum":0,"type":"quantitative","axis":null}}}
     ]},
    {"data":{"name":"spec"},"transform":[{"filter":"datum.c == 10"}],
     "encoding":{"x":{"field":"w","type":"quantitative","scale":{"domain":[462,690],"range":[10.74,430.09],"nice":false,"zero":false},"axis":null},"y":{"field":"v","type":"quantitative","scale":{"domain":[0,2.1],"range":[380.68,171.57],"nice":false,"zero":false},"axis":null}},
     "layer":[
      {"transform":[{"filter":"datum.w == 462"}],"mark":{"type":"rule","color":"#dcdcdc","strokeWidth":1.2},"encoding":{"y":{"datum":0,"type":"quantitative","axis":null},"y2":{"datum":2.1}}},
      {"mark":{"type":"area","interpolate":"monotone","opacity":1,"fill":{"gradient":"linear","x1":0,"y1":0,"x2":0,"y2":1,"stops":[{"offset":0,"color":"#ffffff"},{"offset":0.86,"color":"#f2f2f2"},{"offset":1,"color":"#d0d0d0"}]}},"encoding":{"y2":{"datum":-0.279}}},
      {"mark":{"type":"line","interpolate":"monotone","color":"#ff6a2a","strokeWidth":3}},
      {"transform":[{"filter":"datum.w == 692"}],"mark":{"type":"rule","color":"#000","strokeWidth":2},"encoding":{"x":{"datum":690,"type":"quantitative","axis":null},"x2":{"datum":685},"y":{"datum":0,"type":"quantitative","axis":null}}},
      {"transform":[{"filter":"datum.w == 692"}],"mark":{"type":"text","text":"10","align":"left","baseline":"middle","dx":12,"fontSize":25},"encoding":{"x":{"datum":690,"type":"quantitative","axis":null},"y":{"datum":0,"type":"quantitative","axis":null}}}
     ]},
    {"data":{"name":"spec"},"transform":[{"filter":"datum.c == 5"}],
     "encoding":{"x":{"field":"w","type":"quantitative","scale":{"domain":[462,690],"range":[-13.98,417.04],"nice":false,"zero":false},"axis":null},"y":{"field":"v","type":"quantitative","scale":{"domain":[0,2.1],"range":[408.44,193.5],"nice":false,"zero":false},"axis":null}},
     "layer":[
      {"transform":[{"filter":"datum.w == 462"}],"mark":{"type":"rule","color":"#dcdcdc","strokeWidth":1.2},"encoding":{"y":{"datum":0,"type":"quantitative","axis":null},"y2":{"datum":2.1}}},
      {"mark":{"type":"area","interpolate":"monotone","opacity":1,"fill":{"gradient":"linear","x1":0,"y1":0,"x2":0,"y2":1,"stops":[{"offset":0,"color":"#ffffff"},{"offset":0.869,"color":"#f2f2f2"},{"offset":1,"color":"#d0d0d0"}]}},"encoding":{"y2":{"datum":-0.287}}},
      {"mark":{"type":"line","interpolate":"monotone","color":"#ff4d6b","strokeWidth":3}},
      {"transform":[{"filter":"datum.w == 692"}],"mark":{"type":"rule","color":"#000","strokeWidth":2},"encoding":{"x":{"datum":690,"type":"quantitative","axis":null},"x2":{"datum":685},"y":{"datum":0,"type":"quantitative","axis":null}}},
      {"transform":[{"filter":"datum.w == 692"}],"mark":{"type":"text","text":"5","align":"left","baseline":"middle","dx":12,"fontSize":25},"encoding":{"x":{"datum":690,"type":"quantitative","axis":null},"y":{"datum":0,"type":"quantitative","axis":null}}}
     ]},
    {"data":{"name":"spec"},"transform":[{"filter":"datum.c == 0"}],
     "encoding":{"x":{"field":"w","type":"quantitative","scale":{"domain":[462,690],"range":[-40.12,403.24],"nice":false,"zero":false},"axis":null},"y":{"field":"v","type":"quantitative","scale":{"domain":[0,2.1],"range":[437.79,216.7],"nice":false,"zero":false},"axis":null}},
     "layer":[
      {"transform":[{"filter":"datum.w == 462"}],"mark":{"type":"rule","color":"#dcdcdc","strokeWidth":1.2},"encoding":{"y":{"datum":0,"type":"quantitative","axis":null},"y2":{"datum":2.1}}},
      {"mark":{"type":"area","interpolate":"monotone","opacity":1,"fill":{"gradient":"linear","x1":0,"y1":0,"x2":0,"y2":1,"stops":[{"offset":0,"color":"#ffffff"},{"offset":0.944,"color":"#f2f2f2"},{"offset":1,"color":"#d0d0d0"}]}},"encoding":{"y2":{"datum":-0.116}}},
      {"mark":{"type":"line","interpolate":"monotone","color":"#ff0000","strokeWidth":3}},
      {"transform":[{"filter":"datum.w == 692"}],"mark":{"type":"rule","color":"#000","strokeWidth":2},"encoding":{"x":{"datum":690,"type":"quantitative","axis":null},"x2":{"datum":685},"y":{"datum":0,"type":"quantitative","axis":null}}},
      {"transform":[{"filter":"datum.w == 692"}],"mark":{"type":"text","text":"Blank","align":"left","baseline":"middle","dx":12,"fontSize":27},"encoding":{"x":{"datum":690,"type":"quantitative","axis":null},"y":{"datum":0,"type":"quantitative","axis":null}}}
     ]},

    {"data":{"values":[{}]},"mark":{"type":"rule","color":"#000","strokeWidth":2.5},"encoding":{"x":{"datum":-2,"type":"quantitative","scale":{"domain":[-2,72],"range":[397.5,548],"nice":false,"zero":false},"axis":null},"x2":{"datum":72},"y":{"datum":-2,"type":"quantitative","scale":{"domain":[-2,72],"range":[450,130],"nice":false,"zero":false},"axis":null},"y2":{"datum":72}}},
    {"data":{"values":[{}]},"mark":{"type":"text","text":"(ppm)","angle":-67.5,"fontSize":18,"align":"center","baseline":"middle"},
     "encoding":{"x":{"datum":805,"type":"quantitative","scale":{"domain":[462,690],"range":[-51,397.5],"nice":false,"zero":false},"axis":null},"y":{"datum":2.84,"type":"quantitative","scale":{"domain":[0,2.1],"range":[450,226.35],"nice":false,"zero":false},"axis":null}}},
    {"data":{"values":[{}]},"mark":{"type":"text","text":"Concentration of methanol","angle":-67.5,"fontSize":25,"align":"center","baseline":"middle"},
     "encoding":{
      "x":{"datum":771,"type":"quantitative","scale":{"domain":[462,690],"range":[-51,397.5],"nice":false,"zero":false},"axis":{"orient":"bottom","title":"Wavelength (nm)","titleFontSize":40,"titlePadding":6,"values":[475,500,525,550,575,600,625,650,675],"labelExpr":"datum.value % 50 === 0 ? datum.label : ''","tickSize":-7,"labelPadding":22}},
      "y":{"datum":1.29,"type":"quantitative","scale":{"domain":[0,2.1],"range":[450,226.35],"nice":false,"zero":false},"axis":{"orient":"left","offset":51,"title":"Normalized intensity","titleFontSize":38,"titlePadding":8,"values":[0,0.25,0.5,0.75,1,1.25,1.5,1.75,2],"labelExpr":"round(datum.value*4) % 2 === 0 ? format(datum.value, '.1f') : ''","tickSize":-7,"labelPadding":11}}}}
   ]
  },
  {"width":555,"height":455,
   "title":{"text":"(d)","anchor":"start","frame":"group","orient":"top","offset":0,"dx":-219,"dy":58,"baseline":"alphabetic"},
   "layer":[
    {"data":{"name":"d"},"mark":{"type":"point","shape":"circle","filled":true,"size":200,"color":"#a526f0","opacity":1},
     "encoding":{
      "x":{"field":"C","type":"quantitative","scale":{"domain":[-5,80],"nice":false,"zero":false},"axis":{"title":"Concentration of Methanol (ppm)","titleFontSize":38,"titlePadding":4,"values":[0,5,10,15,20,25,30,35,40,45,50,55,60,65,70,75,80],"labelExpr":"datum.value % 10 === 0 ? datum.label : ''","tickSize":-8,"labelPadding":14}},
      "y":{"field":"r","type":"quantitative","scale":{"domain":[0.3,2.1],"nice":false,"zero":false},"axis":{"title":"I₆₀₀ ₙₘ/I₅₂₀ ₙₘ","titleFontSize":42,"titlePadding":6,"values":[0.4,0.6,0.8,1.0,1.2,1.4,1.6,1.8,2.0],"labelExpr":"round(datum.value*10) % 4 === 0 ? format(datum.value, '.1f') : ''","tickSize":-8,"labelPadding":20}}}},
    {"data":{"name":"fit"},"mark":{"type":"line","color":"#ff0000","strokeWidth":4},"encoding":{"x":{"field":"C","type":"quantitative","title":"Concentration of Methanol (ppm)"},"y":{"field":"r","type":"quantitative","title":"I₆₀₀ ₙₘ/I₅₂₀ ₙₘ"}}},
    {"data":{"name":"d"},"mark":{"type":"errorbar","color":"#000","ticks":{"size":11,"thickness":1.6},"rule":{"strokeWidth":1.6}},"encoding":{"x":{"field":"C","type":"quantitative","title":"Concentration of Methanol (ppm)"},"y":{"field":"r","type":"quantitative","title":"I₆₀₀ ₙₘ/I₅₂₀ ₙₘ"},"yError":{"field":"e"}}},
    {"data":{"values":[{}]},"mark":{"type":"text","text":"I₆₀₀ₙₘ/I₅₂₀ ₙₘ=-0.0206C+1.9498","align":"left","baseline":"alphabetic","fontSize":34},"encoding":{"x":{"datum":13.8,"type":"quantitative","title":"Concentration of Methanol (ppm)"},"y":{"datum":1.878,"type":"quantitative","title":"I₆₀₀ ₙₘ/I₅₂₀ ₙₘ"}}},
    {"data":{"values":[{}]},"mark":{"type":"text","text":"R²=0.9939","align":"left","baseline":"alphabetic","fontSize":34},"encoding":{"x":{"datum":13.6,"type":"quantitative","title":"Concentration of Methanol (ppm)"},"y":{"datum":1.704,"type":"quantitative","title":"I₆₀₀ ₙₘ/I₅₂₀ ₙₘ"}}}
   ]
  }
]
}
